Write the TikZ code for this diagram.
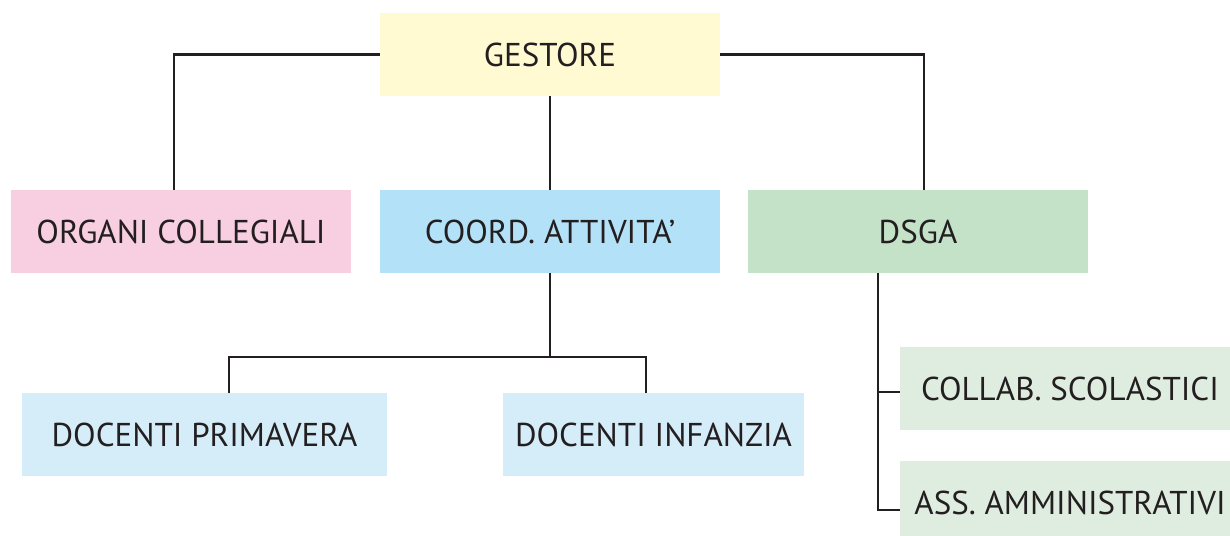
\documentclass[tikz,border=0pt]{standalone}
\usepackage{fontspec}
\setmainfont{PT Sans}
\usepackage{tikz}

\definecolor{gestcol}{HTML}{FFFAD2}
\definecolor{orgcol}{HTML}{F8CEE1}
\definecolor{coordcol}{HTML}{B2E1F8}
\definecolor{dsgacol}{HTML}{C4E2C7}
\definecolor{doccol}{HTML}{D5EDF9}
\definecolor{staffcol}{HTML}{DFEDE0}
\definecolor{linecol}{HTML}{231F20}

\begin{document}
\begin{tikzpicture}[box/.style={minimum width=340pt, minimum height=83pt, inner sep=0pt, text=linecol, font=\fontsize{33}{36}\selectfont}, link/.style={draw=linecol, line width=2.6pt}]
\useasboundingbox (0pt, 0pt) rectangle (1230pt, -535pt);
\draw (550.0pt, -54.5pt)node[box, fill=gestcol](gest){GESTORE};
\draw (181.0pt, -231.5pt)node[box, fill=orgcol](org){ORGANI COLLEGIALI};
\draw (550.0pt, -231.5pt)node[box, fill=coordcol](coord){COORD. ATTIVITA’};
\draw (918.0pt, -231.5pt)node[box, fill=dsgacol](dsga){DSGA};
\draw (204.5pt, -434.5pt)node[box, minimum width=365pt, fill=doccol](prim){DOCENTI PRIMAVERA};
\draw (653.5pt, -434.5pt)node[box, minimum width=301pt, fill=doccol](inf){DOCENTI INFANZIA};
\draw (1070.0pt, -388.5pt)node[box, fill=staffcol](coll){COLLAB. SCOLASTICI};
\draw (1070.0pt, -502.5pt)node[box, fill=staffcol](ass){ASS. AMMINISTRATIVI};
\coordinate (split) at (550.0pt, -357.0pt);
\path[link] (gest.west) -| ([xshift=-7pt]org.north);
\path[link] (gest.east) -| ([xshift=6pt]dsga.north);
\path[link] (gest.south) -- (coord.north);
\path[link] (coord.south) -- (split);
\path[link] ([xshift=24.5pt]prim.north) |- (split) -| ([xshift=-7.5pt]inf.north);
\path[link] ([xshift=-40pt]dsga.south) |- ([yshift=-7.5pt]ass.west);
\path[link] ([yshift=-3.5pt]coll.west) -- ++(-22pt, 0pt);
\end{tikzpicture}
\end{document}
